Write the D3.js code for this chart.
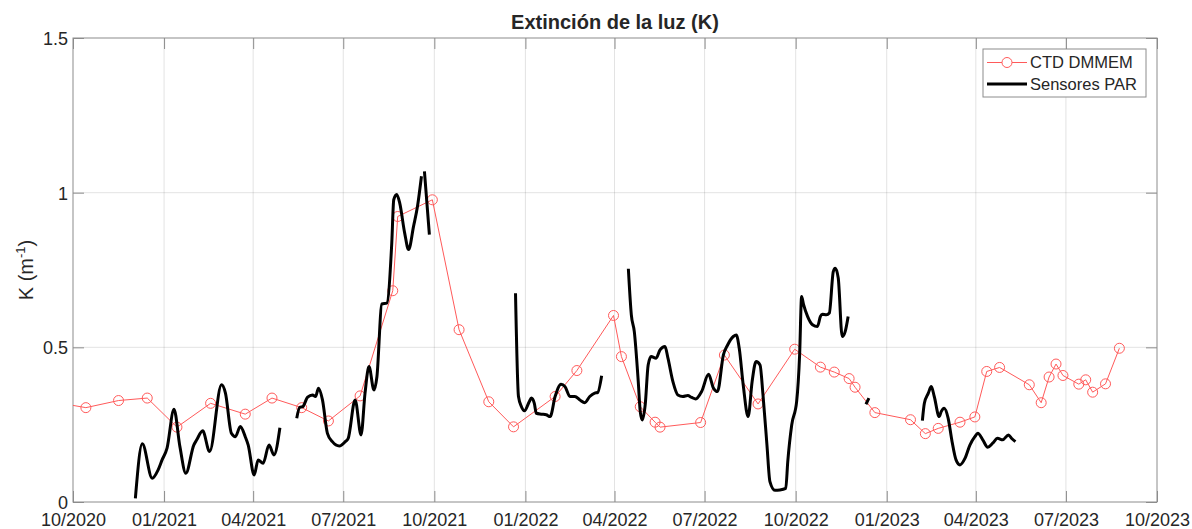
<!DOCTYPE html>
<html>
<head>
<meta charset="utf-8">
<script src="https://cdn.jsdelivr.net/npm/d3@7"></script>
<style>
  body { margin: 0; background: #fff; }
  text { font-family: "Liberation Sans", Arial, Helvetica, sans-serif; fill: #262626; }
  .grid line { stroke: #262626; stroke-opacity: 0.13; }
  .axisFrame { fill: none; stroke: #8c8c8c; stroke-width: 1; }
  .tick line { stroke: #8c8c8c; }
</style>
</head>
<body>
<div id="chart"></div>
<script>

// CTD DMMEM profiles (red, markers)
var ctdDates = ["2020-09-10","2020-10-14","2020-11-16","2020-12-15","2021-01-14","2021-02-17","2021-03-24","2021-04-20",
  "2021-05-20","2021-06-16","2021-07-18","2021-08-20","2021-08-25","2021-09-29","2021-10-26","2021-11-25","2021-12-20",
  "2022-01-31","2022-02-22","2022-03-31","2022-04-08","2022-04-27","2022-05-12","2022-05-17","2022-06-27","2022-07-21",
  "2022-08-24","2022-09-30","2022-10-26","2022-11-09","2022-11-24","2022-11-30","2022-12-20","2023-01-25","2023-02-09",
  "2023-02-22","2023-03-16","2023-03-31","2023-04-12","2023-04-25","2023-05-25","2023-06-06","2023-06-14","2023-06-21",
  "2023-06-28","2023-07-14","2023-07-21","2023-07-28","2023-08-10","2023-08-24"];
var ctdValues = [0.324,0.305,0.328,0.336,0.242,0.319,0.284,0.336,
  0.305,0.262,0.343,0.683,0.923,0.977,0.557,0.324,0.243,
  0.341,0.425,0.603,0.470,0.308,0.258,0.242,0.257,0.475,
  0.317,0.494,0.436,0.420,0.399,0.371,0.289,0.266,0.221,
  0.238,0.258,0.275,0.422,0.435,0.379,0.321,0.404,0.446,
  0.409,0.381,0.395,0.355,0.382,0.497];

// PAR sensors (black line), null = gap between deployments
var parDates = [
  "2020-12-03","2020-12-10","2020-12-20","2020-12-26","2020-12-30","2021-01-04","2021-01-11","2021-01-17","2021-01-23",
  "2021-01-31","2021-02-03","2021-02-09","2021-02-16","2021-02-28","2021-03-04","2021-03-10","2021-03-14","2021-03-19",
  "2021-03-24","2021-03-27","2021-04-02","2021-04-06","2021-04-11","2021-04-17","2021-04-22","2021-04-28", null,
  "2021-05-15","2021-05-18","2021-05-21","2021-05-26","2021-05-31","2021-06-03","2021-06-06","2021-06-10","2021-06-15",
  "2021-06-20","2021-06-27","2021-07-03","2021-07-06","2021-07-13","2021-07-19","2021-07-23","2021-07-27","2021-08-01",
  "2021-08-04","2021-08-09","2021-08-14","2021-08-19","2021-08-21","2021-08-24","2021-08-27","2021-09-01","2021-09-05",
  "2021-09-10","2021-09-14","2021-09-18", null, "2021-09-21","2021-09-26", null,
  "2021-12-22","2021-12-25","2021-12-28","2021-12-31","2022-01-05","2022-01-07","2022-01-10","2022-01-12","2022-01-17",
  "2022-01-22","2022-01-26","2022-01-31","2022-02-06","2022-02-10","2022-02-15","2022-02-20","2022-02-25","2022-03-02",
  "2022-03-07","2022-03-12","2022-03-15","2022-03-19", null,
  "2022-04-15","2022-04-18","2022-04-21","2022-04-25","2022-04-27","2022-04-29","2022-05-02","2022-05-05","2022-05-08",
  "2022-05-13","2022-05-17","2022-05-22","2022-05-25","2022-05-30","2022-06-04","2022-06-09","2022-06-14","2022-06-18",
  "2022-06-22","2022-06-28","2022-07-05","2022-07-10","2022-07-14","2022-07-20","2022-07-24","2022-07-30","2022-08-02",
  "2022-08-05","2022-08-09","2022-08-14","2022-08-18","2022-08-22","2022-08-26","2022-08-29","2022-09-02","2022-09-05",
  "2022-09-10","2022-09-15","2022-09-21","2022-09-23","2022-09-27","2022-10-02","2022-10-05","2022-10-07","2022-10-09",
  "2022-10-13","2022-10-18","2022-10-23","2022-10-26","2022-10-28","2022-11-01","2022-11-04","2022-11-08","2022-11-10",
  "2022-11-13","2022-11-17","2022-11-20","2022-11-23", null,
  "2022-12-11","2022-12-14", null,
  "2023-02-06","2023-02-08","2023-02-12","2023-02-15","2023-02-18","2023-02-23","2023-02-25","2023-02-28","2023-03-04",
  "2023-03-08","2023-03-12","2023-03-16","2023-03-21","2023-03-26","2023-03-31","2023-04-03","2023-04-08","2023-04-13",
  "2023-04-18","2023-04-23","2023-04-28","2023-05-04","2023-05-07","2023-05-11"];
var parValues = [
  0.012,0.188,0.077,0.104,0.136,0.174,0.300,0.179,0.093,
  0.184,0.201,0.230,0.163,0.379,0.352,0.222,0.211,0.244,
  0.211,0.184,0.087,0.136,0.125,0.184,0.152,0.240, null,
  0.271,0.306,0.308,0.339,0.346,0.341,0.368,0.330,0.222,
  0.195,0.181,0.195,0.206,0.330,0.217,0.352,0.438,0.362,
  0.405,0.640,0.643,0.837,0.977,0.994,0.967,0.870,0.816,
  0.891,0.956,1.053, null, 1.069,0.864, null,
  0.675,0.341,0.308,0.295,0.325,0.336,0.319,0.287,0.284,
  0.282,0.276,0.341,0.381,0.373,0.341,0.341,0.330,0.321,
  0.341,0.352,0.354,0.408, null,
  0.754,0.605,0.551,0.389,0.292,0.265,0.314,0.443,0.470,
  0.465,0.492,0.503,0.465,0.389,0.346,0.341,0.344,0.338,
  0.333,0.357,0.413,0.368,0.357,0.476,0.506,0.535,0.540,
  0.497,0.379,0.276,0.389,0.454,0.443,0.346,0.184,0.066,
  0.038,0.039,0.044,0.130,0.249,0.325,0.476,0.664,0.638,
  0.600,0.573,0.567,0.600,0.607,0.605,0.611,0.745,0.756,
  0.724,0.535,0.551,0.600, null,
  0.316,0.336, null,
  0.263,0.319,0.352,0.373,0.341,0.276,0.292,0.303,0.271,
  0.195,0.136,0.120,0.141,0.184,0.211,0.222,0.201,0.177,
  0.190,0.206,0.201,0.217,0.206,0.195];

var xTicks = ["2020-10-01","2021-01-01","2021-04-01","2021-07-01","2021-10-01","2022-01-01","2022-04-01",
  "2022-07-01","2022-10-01","2023-01-01","2023-04-01","2023-07-01","2023-10-01"];
var yTicks = [0, 0.5, 1, 1.5];

var seriesNames = ["CTD DMMEM", "Sensores PAR"];

/************************************************************************************************************/

var parseDate = d3.timeParse("%Y-%m-%d");
var fmtTick = d3.timeFormat("%m/%Y");

var width = 1192, height = 529;
var margin = {top: 38, right: 35, bottom: 27, left: 73};
var w = width - margin.left - margin.right,
  h = height - margin.top - margin.bottom;

var svg = d3.select("#chart").append("svg").attr("width", width).attr("height", height);

var x = d3.scaleTime()
  .domain([parseDate(xTicks[0]), parseDate(xTicks[xTicks.length - 1])])
  .range([0, w]);
var y = d3.scaleLinear().domain([0, 1.5]).range([h, 0]);

var g = svg.append("g").attr("transform", "translate(" + [margin.left, margin.top] + ")");

svg.append("defs").append("clipPath").attr("id", "plotClip")
  .append("rect").attr("width", w).attr("height", h);

//grid
var grid = g.append("g").classed("grid", true);
grid.selectAll(".gx").data(xTicks.slice(1, -1)).enter().append("line")
  .attr("x1", function (d) { return x(parseDate(d)); })
  .attr("x2", function (d) { return x(parseDate(d)); })
  .attr("y1", 0).attr("y2", h);
grid.selectAll(".gy").data(yTicks.slice(1, -1)).enter().append("line")
  .attr("x1", 0).attr("x2", w)
  .attr("y1", function (d) { return y(d); })
  .attr("y2", function (d) { return y(d); });

//axes, ticks inward like matlab, box on
var tickLen = 11;
var xTickDates = xTicks.map(parseDate);

var axBottom = g.append("g").attr("transform", "translate(0," + h + ")")
  .call(d3.axisBottom(x).tickValues(xTickDates).tickFormat(fmtTick).tickSizeInner(-tickLen).tickSizeOuter(0));
var axTop = g.append("g")
  .call(d3.axisTop(x).tickValues(xTickDates).tickFormat("").tickSizeInner(-tickLen).tickSizeOuter(0));
var axLeft = g.append("g")
  .call(d3.axisLeft(y).tickValues(yTicks).tickFormat(d3.format("")).tickSizeInner(-tickLen).tickSizeOuter(0).tickPadding(5));
var axRight = g.append("g").attr("transform", "translate(" + w + ",0)")
  .call(d3.axisRight(y).tickValues(yTicks).tickFormat("").tickSizeInner(-tickLen).tickSizeOuter(0));

[axBottom, axTop, axLeft, axRight].forEach(function (a) {
  a.select(".domain").remove();
  a.selectAll("text").attr("font-size", 18).attr("font-family", null).attr("fill", "#262626");
});
//labels sit right on the bottom edge, as in the original figure
axBottom.selectAll("text").attr("dy", null).attr("y", 24);
axLeft.selectAll("text").attr("dy", "0.36em");

g.append("rect").classed("axisFrame", true).attr("width", w).attr("height", h);

//data
var chart = g.append("g").attr("clip-path", "url(#plotClip)");

var ctdData = ctdDates.map(function (d, i) { return {date: parseDate(d), v: ctdValues[i]}; });
var parData = parDates.map(function (d, i) { return {date: d ? parseDate(d) : null, v: parValues[i]}; });

var ctdLine = d3.line()
  .x(function (d) { return x(d.date); })
  .y(function (d) { return y(d.v); });

var parLine = d3.line()
  .defined(function (d) { return d.v !== null; })
  .curve(d3.curveMonotoneX)
  .x(function (d) { return x(d.date); })
  .y(function (d) { return y(d.v); });

chart.append("path").datum(ctdData)
  .attr("d", ctdLine).attr("fill", "none").attr("stroke", "#ff5a5a").attr("stroke-width", 1);

chart.selectAll(".ctdMark").data(ctdData).enter().append("circle")
  .attr("cx", function (d) { return x(d.date); })
  .attr("cy", function (d) { return y(d.v); })
  .attr("r", 5).attr("fill", "none").attr("stroke", "#ff5a5a").attr("stroke-width", 1);

chart.append("path").datum(parData)
  .attr("d", parLine).attr("fill", "none").attr("stroke", "#000")
  .attr("stroke-width", 3).attr("stroke-linejoin", "round").attr("stroke-linecap", "butt");

//title and labels
svg.append("text").attr("x", margin.left + w / 2).attr("y", 29)
  .attr("text-anchor", "middle").attr("font-size", 20).attr("font-weight", "bold")
  .attr("fill", "#000").text("Extinción de la luz (K)");

var yLab = svg.append("text").attr("transform", "translate(33," + (margin.top + h / 2) + ") rotate(-90)")
  .attr("text-anchor", "middle").attr("font-size", 20);
yLab.append("tspan").text("K (m");
yLab.append("tspan").attr("font-size", 13).attr("dy", -8).text("-1");
yLab.append("tspan").attr("dy", 8).text(")");

//legend
var leg = svg.append("g").attr("transform", "translate(983,49)");
leg.append("rect").attr("width", 163).attr("height", 48)
  .attr("fill", "#fff").attr("stroke", "#8c8c8c").attr("stroke-width", 1);

leg.append("line").attr("x1", 4).attr("x2", 44).attr("y1", 13.5).attr("y2", 13.5)
  .attr("stroke", "#ff5a5a").attr("stroke-width", 1);
leg.append("circle").attr("cx", 24).attr("cy", 13.5).attr("r", 5)
  .attr("fill", "#fff").attr("stroke", "#ff5a5a");
leg.append("line").attr("x1", 4).attr("x2", 44).attr("y1", 35).attr("y2", 35)
  .attr("stroke", "#000").attr("stroke-width", 3);

leg.selectAll(".legText").data(seriesNames).enter().append("text")
  .attr("x", 47).attr("y", function (d, i) { return 13.5 + i * 22; })
  .attr("dy", "0.36em").attr("font-size", 16.5).attr("fill", "#000")
  .text(function (d) { return d; });

</script>
</body>
</html>
